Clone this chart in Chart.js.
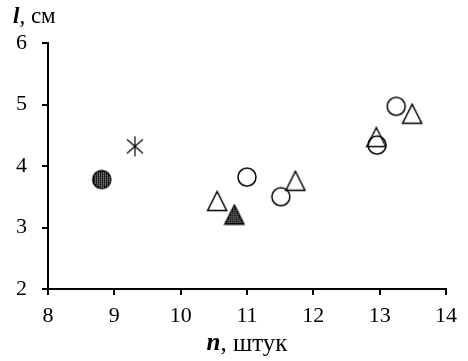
<!DOCTYPE html>
<html>
<head>
<meta charset="utf-8">
<script src="https://cdn.jsdelivr.net/npm/chart.js@4"></script>
<style>
  body { margin: 0; background: #fff; }
  #wrap { width: 468px; height: 361px; position: relative; }
</style>
</head>
<body>
<div id="wrap"><canvas id="scatterChart"></canvas></div>
<script>
// data
var xTicks = [8, 9, 10, 11, 12, 13, 14];
var yTicks = [2, 3, 4, 5, 6];
var openCircles = [
    { x: 11.00, y: 3.82 },
    { x: 11.51, y: 3.50 },
    { x: 12.96, y: 4.34 },
    { x: 13.25, y: 4.97 }
];
var openTriangles = [
    { x: 10.55, y: 3.43 },
    { x: 11.73, y: 3.76 },
    { x: 12.95, y: 4.47 },
    { x: 13.49, y: 4.85 }
];
var hatchedCircle = [{ x: 8.81, y: 3.78 }];
var hatchedTriangle = [{ x: 10.81, y: 3.21 }];
var asterisk = [{ x: 9.31, y: 4.32 }];

var FONT = "'Liberation Serif', 'DejaVu Serif', serif";

// dense dark dot pattern for the hatched markers
function hatchPattern(ctx) {
    var p = document.createElement('canvas');
    p.width = 2; p.height = 2;
    var pc = p.getContext('2d');
    pc.fillStyle = '#000';
    pc.fillRect(0, 0, 2, 2);
    pc.fillStyle = '#fff';
    pc.fillRect(0, 0, 1, 1);
    return ctx.createPattern(p, 'repeat');
}

function makeMarker(kind, hatched) {
    var c = document.createElement('canvas');
    c.width = 22; c.height = 22;
    var m = c.getContext('2d');
    m.strokeStyle = '#000';
    m.lineWidth = 1.5;
    m.beginPath();
    if (kind === 'circle') {
        m.arc(11, 11, 9, 0, Math.PI * 2);
    } else if (kind === 'triangle') {
        m.moveTo(11, 1.5);
        m.lineTo(20.5, 20.5);
        m.lineTo(1.5, 20.5);
        m.closePath();
    } else {
        // asterisk: vertical stroke plus an X
        m.moveTo(11, 1); m.lineTo(11, 21);
        m.moveTo(3, 4); m.lineTo(19, 18);
        m.moveTo(19, 4); m.lineTo(3, 18);
        m.lineWidth = 1.2;
    }
    if (hatched) {
        m.fillStyle = hatchPattern(m);
        m.fill();
    }
    m.stroke();
    return c;
}

// axis titles: bold italic letter followed by regular text
var axisTitles = {
    id: 'axisTitles',
    afterDraw: function (chart) {
        var ctx = chart.ctx;
        var area = chart.chartArea;
        ctx.save();
        ctx.fillStyle = '#000';
        ctx.textBaseline = 'middle';

        function mixed(letter, rest, x, y, size, centered) {
            ctx.font = 'bold italic ' + size + 'px ' + FONT;
            var w1 = ctx.measureText(letter).width;
            ctx.font = size + 'px ' + FONT;
            var w2 = ctx.measureText(rest).width;
            var start = centered ? x - (w1 + w2) / 2 : x;
            ctx.textAlign = 'left';
            ctx.font = 'bold italic ' + size + 'px ' + FONT;
            ctx.fillText(letter, start, y);
            ctx.font = size + 'px ' + FONT;
            ctx.fillText(rest, start + w1, y);
        }

        mixed('l', ', см', 13, 17, 23, false);
        mixed('n', ', штук', (area.left + area.right) / 2, 344, 25, true);
        ctx.restore();
    }
};

document.addEventListener("DOMContentLoaded", function () {
    var ctx = document.getElementById('scatterChart').getContext('2d');
    var chart = new Chart(ctx, {
        type: 'scatter',
        data: {
            datasets: [
                { label: 'open circles', data: openCircles, pointStyle: makeMarker('circle', false) },
                { label: 'open triangles', data: openTriangles, pointStyle: makeMarker('triangle', false) },
                { label: 'hatched circle', data: hatchedCircle, pointStyle: makeMarker('circle', true) },
                { label: 'hatched triangle', data: hatchedTriangle, pointStyle: makeMarker('triangle', true) },
                { label: 'asterisk', data: asterisk, pointStyle: makeMarker('star', false) }
            ]
        },
        options: {
            responsive: true,
            maintainAspectRatio: false,
            animation: false,
            events: [],
            layout: { padding: { top: 43, right: 22, left: 0, bottom: 0 } },
            plugins: {
                legend: { display: false },
                tooltip: { enabled: false }
            },
            scales: {
                x: {
                    type: 'linear',
                    min: xTicks[0],
                    max: xTicks[xTicks.length - 1],
                    afterBuildTicks: function (scale) {
                        scale.ticks = xTicks.map(function (v) { return { value: v }; });
                    },
                    afterFit: function (scale) { scale.height = 72; },
                    grid: { drawOnChartArea: false, tickLength: 6, color: '#000', lineWidth: 2 },
                    border: { color: '#000', width: 2 },
                    ticks: { color: '#000', padding: 8, font: { family: FONT, size: 22 } }
                },
                y: {
                    min: yTicks[0],
                    max: yTicks[yTicks.length - 1],
                    afterBuildTicks: function (scale) {
                        scale.ticks = yTicks.map(function (v) { return { value: v }; });
                    },
                    afterFit: function (scale) { scale.width = 48; },
                    grid: { drawOnChartArea: false, tickLength: 6, color: '#000', lineWidth: 2 },
                    border: { color: '#000', width: 2 },
                    ticks: { color: '#000', padding: 15, font: { family: FONT, size: 22 } }
                }
            }
        },
        plugins: [axisTitles]
    });
});
</script>
</body>
</html>
